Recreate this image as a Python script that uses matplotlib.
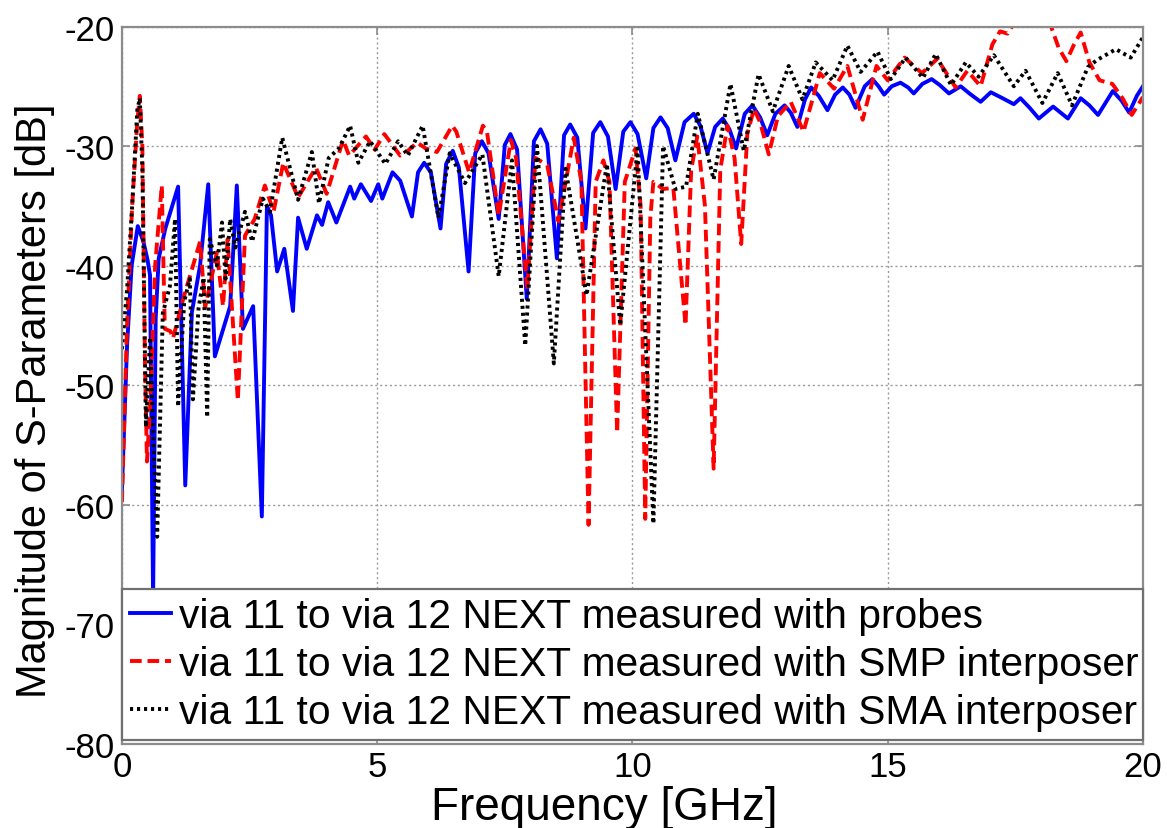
import numpy as np
import matplotlib
matplotlib.use("Agg")
import matplotlib.pyplot as plt

# Near-end crosstalk, via 11 -> via 12, three measurement setups
freq_probe = [0.00, 0.10, 0.19, 0.31, 0.42, 0.50, 0.55, 0.61, 0.66, 0.72, 0.85, 1.10, 1.24, 1.37, 1.53,
              1.69, 1.82, 2.12, 2.25, 2.37, 2.57, 2.74, 2.84, 2.92, 3.04, 3.18, 3.35, 3.45, 3.62, 3.82,
              3.92, 4.04, 4.20, 4.47, 4.55, 4.68, 4.88, 5.02, 5.10, 5.30, 5.45, 5.68, 5.80, 5.92, 6.05,
              6.24, 6.35, 6.48, 6.60, 6.79, 6.92, 7.05, 7.18, 7.38, 7.50, 7.61, 7.74, 7.93, 8.07, 8.20,
              8.33, 8.52, 8.66, 8.78, 8.92, 9.08, 9.23, 9.37, 9.52, 9.67, 9.82, 9.96, 10.10, 10.27, 10.41,
              10.55, 10.69, 10.84, 11.02, 11.20, 11.33, 11.47, 11.62, 11.77, 11.90, 12.03, 12.20, 12.35,
              12.50, 12.64, 12.80, 12.98, 13.10, 13.23, 13.38, 13.50, 13.65, 13.82, 13.97, 14.12, 14.25,
              14.37, 14.55, 14.70, 14.82, 14.93, 15.08, 15.25, 15.40, 15.51, 15.68, 15.86, 16.02, 16.20,
              16.43, 16.60, 16.82, 17.02, 17.25, 17.47, 17.60, 17.78, 17.96, 18.24, 18.53, 18.78, 18.95,
              19.12, 19.41, 19.58, 19.73, 19.88, 20.00]
db_probe = [-58.7, -46.7, -40.0, -36.7, -38.0, -39.5, -40.8, -68.0, -44.5, -39.4, -36.9, -33.4, -58.4, -43.9, -40.0,
            -33.2, -47.6, -43.4, -33.3, -45.3, -43.4, -61.0, -35.0, -35.8, -40.5, -38.6, -43.8, -36.0, -38.6, -35.8,
            -36.6, -34.7, -36.4, -33.4, -34.4, -33.2, -34.6, -33.2, -34.4, -32.2, -32.9, -35.9, -32.2, -31.4, -32.2,
            -36.9, -31.5, -30.4, -31.8, -40.5, -30.6, -29.6, -30.6, -36.1, -29.9, -29.0, -30.3, -42.8, -29.6, -28.6,
            -29.8, -39.4, -29.1, -28.2, -29.3, -36.9, -28.9, -28.0, -29.2, -33.6, -28.8, -28.0, -29.0, -32.7, -28.5,
            -27.6, -28.5, -31.2, -28.0, -27.3, -28.3, -30.6, -28.4, -27.7, -28.6, -30.2, -27.3, -26.6,
            -27.6, -29.1, -27.3, -26.6, -27.2, -28.4, -26.1, -25.1, -25.8, -27.0, -25.7, -25.1, -25.7,
            -26.8, -25.0, -24.4, -25.0, -25.7, -25.0, -24.7, -25.1, -25.6, -24.8, -24.4, -24.9, -25.6,
            -25.0, -25.6, -26.3, -25.5, -26.0, -26.5, -26.0, -26.8, -27.7, -26.7, -27.7, -26.0, -26.6,
            -27.4, -25.4, -26.2, -27.2, -25.8, -25.0]

freq_smp = [0.00, 0.10, 0.20, 0.30, 0.35, 0.40, 0.45, 0.49, 0.55, 0.65, 0.78, 0.84, 0.95, 1.00, 1.20,
            1.53, 1.63, 1.86, 1.98, 2.07, 2.27, 2.41, 2.60, 2.80, 2.97, 3.16, 3.45, 3.80, 4.01, 4.33,
            4.45, 4.78, 4.95, 5.14, 5.45, 5.60, 5.78, 5.95, 6.17, 6.47, 6.55, 6.80, 7.07, 7.15, 7.38,
            7.62, 7.72, 7.94, 8.10, 8.33, 8.55, 8.85, 9.00, 9.14, 9.28, 9.43, 9.55, 9.70, 9.85, 10.06,
            10.16, 10.25, 10.35, 10.41, 10.60, 10.80, 11.04, 11.15, 11.27, 11.42, 11.59, 11.72, 11.86,
            12.00, 12.13, 12.25, 12.38, 12.50, 12.67, 12.85, 13.10, 13.35, 13.67, 13.95, 14.21, 14.51,
            14.78, 15.00, 15.33, 15.67, 15.97, 16.33, 16.56, 16.82, 17.05, 17.20, 17.35, 17.50, 17.70,
            17.95, 18.20, 18.35, 18.50, 18.65, 18.78, 18.95, 19.15, 19.40, 19.60, 19.78, 20.00]
db_smp = [-59.8, -45.0, -35.0, -28.0, -25.8, -30.0, -48.0, -56.4, -52.0, -40.0, -33.3, -45.3, -45.5, -46.1, -42.8,
          -38.0, -43.5, -38.9, -43.4, -37.8, -51.3, -37.5, -36.1, -33.3, -35.5, -31.4, -34.3, -31.8, -34.0, -29.5,
          -30.8, -29.2, -30.3, -29.0, -30.8, -30.4, -29.7, -30.2, -30.5, -28.3, -28.8, -32.2, -28.3, -28.8, -35.8,
          -29.5, -31.0, -42.0, -31.0, -31.6, -36.3, -29.3, -33.0, -61.7, -33.0, -31.2, -33.0, -54.0, -33.0, -30.2,
          -35.0, -61.2, -36.0, -33.0, -33.6, -33.5, -45.0, -32.0, -29.2, -35.0, -57.0, -32.0, -28.3,
          -31.0, -38.2, -29.0, -26.9, -28.0, -30.7, -27.5, -26.3, -28.8, -23.9, -25.2, -23.3, -27.8,
          -23.3, -24.5, -22.6, -23.9, -22.7, -25.1, -23.7, -25.0, -21.5, -20.4, -20.6, -19.5, -18.5,
          -18.5, -20.0, -21.8, -22.9, -21.5, -20.5, -23.0, -24.5, -24.8, -26.0, -27.4, -25.9]

freq_sma = [0.00, 0.10, 0.20, 0.30, 0.35, 0.40, 0.47, 0.55, 0.62, 0.69, 0.80, 0.94, 1.04, 1.10, 1.22,
            1.33, 1.39, 1.50, 1.60, 1.67, 1.72, 1.86, 1.96, 2.03, 2.12, 2.22, 2.41, 2.55, 2.76, 2.90,
            3.14, 3.45, 3.72, 3.86, 4.05, 4.25, 4.47, 4.63, 4.86, 5.16, 5.41, 5.60, 5.89, 6.20, 6.42,
            6.72, 7.06, 7.38, 7.64, 7.90, 8.13, 8.46, 8.69, 9.10, 9.50, 9.76, 10.10, 10.41, 10.60,
            10.84, 11.05, 11.28, 11.59, 11.92, 12.18, 12.47, 12.75, 13.06, 13.33, 13.59, 13.92, 14.21,
            14.47, 14.80, 15.06, 15.35, 15.69, 15.94, 16.24, 16.53, 16.78, 17.08, 17.47, 17.70, 18.03,
            18.33, 18.61, 18.92, 19.10, 19.47, 19.76, 20.00]
db_sma = [-47.0, -42.0, -35.0, -27.0, -26.0, -32.0, -53.5, -46.0, -55.0, -62.7, -44.0, -41.7, -36.1, -51.8, -43.0,
          -41.1, -51.2, -43.6, -41.0, -52.7, -37.8, -40.0, -36.4, -41.1, -36.1, -38.5, -35.5, -38.0, -34.4, -35.5,
          -29.3, -34.5, -30.5, -34.8, -31.0, -30.2, -28.3, -31.4, -29.6, -31.5, -29.6, -30.8, -28.3, -36.0, -30.6,
          -33.1, -30.7, -40.9, -31.2, -46.7, -30.0, -48.2, -31.9, -42.5, -31.5, -45.0, -30.2, -61.6, -30.0,
          -33.6, -33.4, -27.3, -32.8, -24.8, -30.4, -24.0, -27.1, -23.3, -26.1, -23.0, -24.5, -21.6,
          -23.8, -22.1, -24.4, -22.6, -24.3, -22.3, -24.9, -23.0, -24.2, -22.4, -25.0, -23.7, -26.4,
          -23.9, -26.6, -23.4, -22.8, -21.9, -22.6, -20.9]

labels = ["via 11 to via 12 NEXT measured with probes",
          "via 11 to via 12 NEXT measured with SMP interposer",
          "via 11 to via 12 NEXT measured with SMA interposer"]
x_ticks = [0, 5, 10, 15, 20]
y_ticks = [-80, -70, -60, -50, -40, -30, -20]

plt.rcParams["font.family"] = ["Liberation Sans", "DejaVu Sans"]
plt.rcParams["axes.unicode_minus"] = False

fig = plt.figure(figsize=(11.67, 8.29), dpi=100)
ax = fig.add_axes([0.1045, 0.1019, 0.8749, 0.8649])

lw = 2.8
ax.plot(freq_probe, db_probe, color="#0000ff", lw=lw, solid_joinstyle="round", label=labels[0])
ax.plot(freq_smp, db_smp, color="#ff0000", lw=lw, dashes=(3.0, 1.5), label=labels[1])
ax.plot(freq_sma, db_sma, color="black", lw=lw, dashes=(0.8, 1.0), label=labels[2])

ax.set_xlim(0, 20)
ax.set_ylim(-80, -20)
ax.set_xticks(x_ticks)
ax.set_yticks(y_ticks)
ax.grid(True, color="#9a9a9a", lw=1.0, ls=(0, (1.5, 2.0)))
ax.set_axisbelow(True)

for s in ax.spines.values():
    s.set_color("#8c8c8c")
    s.set_linewidth(1.6)
ax.tick_params(direction="in", length=6, width=1.2, color="#8c8c8c",
               top=True, right=True, labelsize=25, pad=5)

ax.set_xlabel("Frequency [GHz]", fontsize=33)
ax.xaxis.set_label_coords(0.472, -0.058, transform=ax.transAxes)
ax.xaxis.label.set_verticalalignment("top")
ax.set_ylabel("Magnitude of S-Parameters [dB]", fontsize=30)
ax.yaxis.set_label_coords(-0.066, 0.48, transform=ax.transAxes)

leg = ax.legend(loc="upper left", bbox_to_anchor=(0.0, 0.2155, 1.0, 0.0), mode="expand",
                borderaxespad=0, fontsize=29.3, handlelength=1.0, handletextpad=0.2,
                labelspacing=0.25, borderpad=0.2, fancybox=False, framealpha=1)
leg.get_frame().set_edgecolor("#707070")
leg.get_frame().set_linewidth(1.6)

fig.savefig("out.png", dpi=100)
